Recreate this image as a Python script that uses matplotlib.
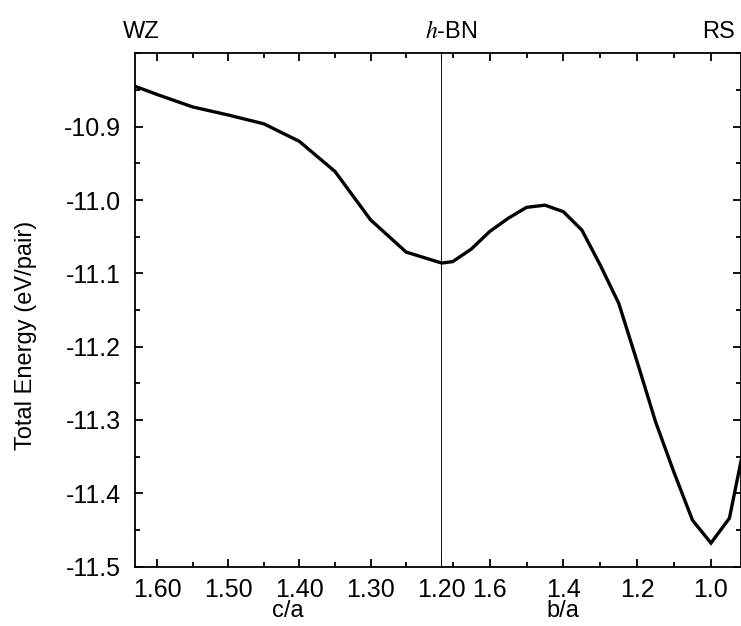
import matplotlib
matplotlib.use("Agg")
import matplotlib.pyplot as plt
from matplotlib.ticker import MultipleLocator, FormatStrFormatter, FixedLocator

plt.rcParams['font.family'] = ['Liberation Sans', 'DejaVu Sans']
plt.rcParams['mathtext.fontset'] = 'stix'

# WZ -> h-BN branch (c/a)
c_over_a = [1.65, 1.60, 1.55, 1.50, 1.45, 1.40, 1.35, 1.30, 1.25, 1.20]
energy_ca = [-10.838, -10.856, -10.873, -10.884, -10.896, -10.920, -10.961, -11.027, -11.071, -11.086]

# h-BN -> RS branch (b/a)
b_over_a = [1.73, 1.70, 1.65, 1.60, 1.55, 1.50, 1.45, 1.40, 1.35, 1.30,
            1.25, 1.20, 1.15, 1.10, 1.05, 1.00, 0.95, 0.90]
energy_ba = [-11.086, -11.084, -11.067, -11.043, -11.025, -11.010, -11.007, -11.016, -11.041, -11.089,
             -11.141, -11.221, -11.303, -11.372, -11.437, -11.468, -11.434, -11.31]

y_ticks = [-11.5, -11.4, -11.3, -11.2, -11.1, -11.0, -10.9]

W, H = 741, 626
fig = plt.figure(figsize=(W / 100, H / 100), dpi=100)

left, bottom, top = 135, 566.5, 52.7
mid, right = 441.7, 740.5
ax1 = fig.add_axes([left / W, 1 - bottom / H, (mid - left) / W, (bottom - top) / H])
ax2 = fig.add_axes([mid / W, 1 - bottom / H, (right - mid) / W, (bottom - top) / H], sharey=ax1)

fs = 18
lw_spine = 1.3

ax1.plot(c_over_a, energy_ca, color='black', lw=2.4, solid_joinstyle='miter')
ax1.set_xlim(1.631, 1.20)
ax1.set_ylim(-11.5, -10.799)
ax1.xaxis.set_major_locator(MultipleLocator(0.10))
ax1.xaxis.set_minor_locator(MultipleLocator(0.05))
ax1.xaxis.set_major_formatter(FormatStrFormatter('%.2f'))
ax1.yaxis.set_major_locator(FixedLocator(y_ticks))
ax1.yaxis.set_minor_locator(MultipleLocator(0.05))
ax1.yaxis.set_major_formatter(FormatStrFormatter('%.1f'))
ax1.tick_params(which='both', direction='in', top=True, right=False, labelsize=fs, width=lw_spine)
ax1.tick_params(axis='x', which='major', length=6, pad=8)
ax1.tick_params(axis='y', which='major', length=6, pad=10)
ax1.tick_params(which='minor', length=3.5)
for s in ax1.spines.values():
    s.set_linewidth(lw_spine)

ax2.plot(b_over_a, energy_ba, color='black', lw=2.4, solid_joinstyle='miter')
ax2.set_xlim(1.73, 0.92)
ax2.xaxis.set_major_locator(MultipleLocator(0.2))
ax2.xaxis.set_minor_locator(MultipleLocator(0.1))
ax2.xaxis.set_major_formatter(FormatStrFormatter('%.1f'))
ax2.tick_params(which='both', direction='in', top=True, right=True, left=False,
                labelleft=False, labelsize=fs, width=lw_spine)
ax2.tick_params(axis='x', which='major', length=6, pad=8)
ax2.tick_params(axis='y', which='major', length=6)
ax2.tick_params(which='minor', length=3.5)
ax2.spines['left'].set_visible(False)
for s in ['top', 'bottom', 'right']:
    ax2.spines[s].set_linewidth(lw_spine)

fig.text(26 / W, 1 - 335 / H, 'Total Energy (eV/pair)', fontsize=fs - 1, rotation=90,
         ha='center', va='center')

fig.text(288 / W, 1 - 611 / H, 'c/a', fontsize=fs - 1, ha='center', va='center')
fig.text(563 / W, 1 - 611 / H, 'b/a', fontsize=fs - 1, ha='center', va='center')

fig.text(141 / W, 1 - 32 / H, 'WZ', fontsize=fs - 1, ha='center', va='center')
fig.text(451 / W, 1 - 32 / H, r'$h$-BN', fontsize=fs - 1, ha='center', va='center')
fig.text(719 / W, 1 - 32 / H, 'RS', fontsize=fs - 1, ha='center', va='center')

fig.savefig('out.png', dpi=100)
